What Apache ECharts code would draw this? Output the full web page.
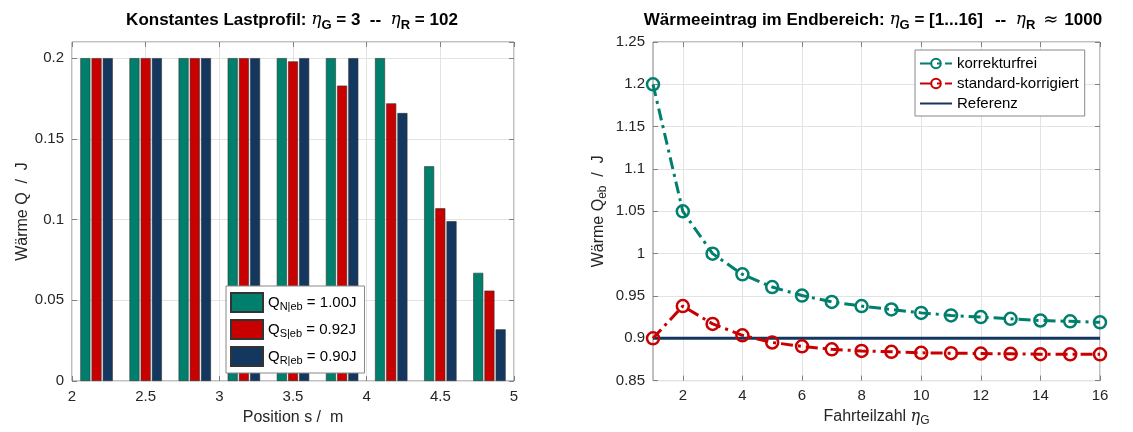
<!DOCTYPE html>
<html>
<head>
  <meta charset="utf-8">
  <script src="https://cdn.jsdelivr.net/npm/echarts@6/dist/echarts.min.js"></script>
  <style>
    body { margin: 0; background: #fff; }
  </style>
</head>
<body>
  <div id="chart" style="width: 1133px;height:432px;"></div>
  <script type="text/javascript">
    // Daten links: 9 Abschnitte zwischen 2 m und 5 m
    var positions = ['2.17', '2.50', '2.83', '3.17', '3.50', '3.83', '4.17', '4.50', '4.83'];
    var qN = [0.2, 0.2, 0.2, 0.2, 0.2, 0.2, 0.2, 0.133, 0.067];
    var qS = [0.2, 0.2, 0.2, 0.2, 0.198, 0.183, 0.172, 0.107, 0.056];
    var qR = [0.2, 0.2, 0.2, 0.2, 0.2, 0.2, 0.166, 0.099, 0.032];
    var legendLeft = { N: '1.00J', S: '0.92J', R: '0.90J' };

    // Daten rechts
    var etaG = [1, 2, 3, 4, 5, 6, 7, 8, 9, 10, 11, 12, 13, 14, 15, 16];
    var korrekturfrei = [1.2, 1.05, 1.0, 0.9755, 0.9605, 0.9505, 0.943, 0.938, 0.934, 0.930, 0.927, 0.925, 0.923, 0.921, 0.920, 0.9188];
    var standardKorr = [0.9, 0.938, 0.917, 0.9035, 0.895, 0.8905, 0.887, 0.885, 0.884, 0.8828, 0.8824, 0.882, 0.8816, 0.8812, 0.881, 0.881];
    var referenz = [0.9, 0.9, 0.9, 0.9, 0.9, 0.9, 0.9, 0.9, 0.9, 0.9, 0.9, 0.9, 0.9, 0.9, 0.9, 0.9];
    var evenTicks = [2, 4, 6, 8, 10, 12, 14, 16];

    var teal = '#007f6d';
    var red = '#c80000';
    var navy = '#14375f';
    var textColor = '#262626';
    var gridColor = '#e3e3e3';
    var boxColor = '#808080';
    var font = 'Liberation Sans';

    var rich = {
      b: { fontFamily: font, fontWeight: 'bold', fontSize: 17, color: '#000' },
      bw: { fontFamily: font, fontWeight: 'bold', fontSize: 17, color: '#000', padding: [0, 12, 0, 0] },
      eta: { fontFamily: 'DejaVu Serif', fontStyle: 'italic', fontWeight: 'normal', fontSize: 17, color: '#000' },
      ap: { fontFamily: 'DejaVu Sans', fontWeight: 'normal', fontSize: 18, color: '#000', padding: [0, 6, 0, 8] },
      sub: { fontFamily: font, fontWeight: 'bold', fontSize: 13, color: '#000', padding: [11, 0, 0, 0] }
    };
    var axRich = {
      n: { fontFamily: font, fontSize: 16, color: textColor },
      eta: { fontFamily: 'DejaVu Serif', fontStyle: 'italic', fontSize: 16, color: textColor },
      sub: { fontFamily: font, fontSize: 12, color: textColor, padding: [9, 0, 0, 0] }
    };
    var legRich = {
      n: { fontFamily: font, fontSize: 15, color: '#000' },
      sub: { fontFamily: font, fontSize: 11, color: '#000', padding: [9, 0, 0, 0] }
    };

    function tickLabel() {
      return { color: textColor, fontFamily: font, fontSize: 15 };
    }

    var chart = echarts.init(document.getElementById('chart'));
    var option = {
      animation: false,
      title: [{
        text: '{b|Konstantes Lastprofil: }{eta|η}{sub|G}{b| = 3  --  }{eta|η}{sub|R}{b| = 102}',
        left: 287, top: 3, textAlign: 'center',
        textStyle: { rich: rich }
      }, {
        text: '{b|Wärmeeintrag im Endbereich: }{eta|η}{sub|G}{bw| = [1...16]}{b|--  }{eta|η}{sub|R}{ap|≈}{b|1000}',
        left: 868, top: 3, textAlign: 'center',
        textStyle: { rich: rich }
      }],
      grid: [{
        left: 72, right: 619, top: 42, bottom: 51,
        show: true, borderColor: boxColor, borderWidth: 1
      }, {
        left: 653, right: 33, top: 42, bottom: 51,
        show: true, borderColor: boxColor, borderWidth: 1
      }],
      legend: [{
        data: ['N', 'S', 'R'],
        orient: 'vertical',
        left: 226, top: 286,
        icon: 'rect',
        itemWidth: 32, itemHeight: 19, itemGap: 6,
        padding: [6, 8, 6, 4],
        backgroundColor: '#fff',
        borderColor: '#888', borderWidth: 1, borderRadius: 0,
        formatter: function (name) {
          return '{n|Q}{sub|' + name + '|eb}{n| = ' + legendLeft[name] + '}';
        },
        textStyle: { rich: legRich, padding: [0, 0, 0, 0] }
      }, {
        data: ['korrekturfrei', 'standard-korrigiert', { name: 'Referenz', itemStyle: { opacity: 0 } }],
        orient: 'vertical',
        left: 915, top: 50,
        itemWidth: 32, itemHeight: 12, itemGap: 5,
        padding: [6, 6, 5, 4],
        backgroundColor: '#fff',
        borderColor: '#888', borderWidth: 1, borderRadius: 0,
        textStyle: { color: '#000', fontFamily: font, fontSize: 15 }
      }],
      xAxis: [{
        // Kategorien fuer die Balken
        type: 'category', gridIndex: 0, data: positions, position: 'top',
        show: false
      }, {
        type: 'value', gridIndex: 0, min: 2, max: 5, interval: 0.5, position: 'bottom',
        name: '{n|Position s /  m}', nameLocation: 'middle', nameGap: 29,
        nameTextStyle: { rich: axRich },
        axisLine: { show: false },
        axisTick: { show: true, inside: true, length: 5, lineStyle: { color: boxColor } },
        axisLabel: tickLabel(),
        splitLine: { show: true, lineStyle: { color: gridColor } }
      }, {
        type: 'value', gridIndex: 0, min: 2, max: 5, interval: 0.5, position: 'top',
        axisLine: { show: false }, axisLabel: { show: false }, splitLine: { show: false },
        axisTick: { show: true, inside: true, length: 5, lineStyle: { color: boxColor } }
      }, {
        type: 'value', gridIndex: 1, min: 1, max: 16, position: 'bottom',
        name: '{n|Fahrteilzahl }{eta|η}{sub|G}', nameLocation: 'middle', nameGap: 25,
        nameTextStyle: { rich: axRich },
        axisLine: { show: false },
        axisTick: { show: true, inside: true, length: 5, customValues: evenTicks, lineStyle: { color: boxColor } },
        axisLabel: Object.assign(tickLabel(), { customValues: evenTicks }),
        splitLine: { show: true, lineStyle: { color: gridColor } }
      }, {
        type: 'value', gridIndex: 1, min: 1, max: 16, position: 'top',
        axisLine: { show: false }, axisLabel: { show: false }, splitLine: { show: false },
        axisTick: { show: true, inside: true, length: 5, customValues: evenTicks, lineStyle: { color: boxColor } }
      }],
      yAxis: [{
        type: 'value', gridIndex: 0, min: 0, max: 0.21, interval: 0.05, position: 'left',
        name: '{n|Wärme Q  /  J}', nameLocation: 'middle', nameGap: 41,
        nameTextStyle: { rich: axRich },
        axisLine: { show: false },
        axisTick: { show: true, inside: true, length: 5, lineStyle: { color: boxColor } },
        axisLabel: Object.assign(tickLabel(), { showMaxLabel: false }),
        splitLine: { show: true, lineStyle: { color: gridColor } }
      }, {
        type: 'value', gridIndex: 0, min: 0, max: 0.21, interval: 0.05, position: 'right',
        axisLine: { show: false }, axisLabel: { show: false }, splitLine: { show: false },
        axisTick: { show: true, inside: true, length: 5, lineStyle: { color: boxColor } }
      }, {
        type: 'value', gridIndex: 1, min: 0.85, max: 1.25, interval: 0.05, position: 'left',
        name: '{n|Wärme Q}{sub|eb}{n|  /  J}', nameLocation: 'middle', nameGap: 44,
        nameTextStyle: { rich: axRich },
        axisLine: { show: false },
        axisTick: { show: true, inside: true, length: 5, lineStyle: { color: boxColor } },
        axisLabel: tickLabel(),
        splitLine: { show: true, lineStyle: { color: gridColor } }
      }, {
        type: 'value', gridIndex: 1, min: 0.85, max: 1.25, interval: 0.05, position: 'right',
        axisLine: { show: false }, axisLabel: { show: false }, splitLine: { show: false },
        axisTick: { show: true, inside: true, length: 5, lineStyle: { color: boxColor } }
      }],
      series: [{
        name: 'N', type: 'bar', xAxisIndex: 0, yAxisIndex: 0, data: qN,
        barWidth: 10, barGap: '12%',
        itemStyle: { color: teal, borderColor: '#333', borderWidth: 0.6 }
      }, {
        name: 'S', type: 'bar', xAxisIndex: 0, yAxisIndex: 0, data: qS,
        barWidth: 10, barGap: '12%',
        itemStyle: { color: red, borderColor: '#333', borderWidth: 0.6 }
      }, {
        name: 'R', type: 'bar', xAxisIndex: 0, yAxisIndex: 0, data: qR,
        barWidth: 10, barGap: '12%',
        itemStyle: { color: navy, borderColor: '#333', borderWidth: 0.6 }
      }, {
        name: 'Referenz', type: 'line', xAxisIndex: 3, yAxisIndex: 2,
        data: etaG.map(function (x, i) { return [x, referenz[i]]; }),
        symbol: 'none', z: 2,
        lineStyle: { color: navy, width: 3 },
        itemStyle: { color: navy }
      }, {
        name: 'korrekturfrei', type: 'line', xAxisIndex: 3, yAxisIndex: 2,
        data: etaG.map(function (x, i) { return [x, korrekturfrei[i]]; }),
        symbol: 'circle', symbolSize: 12, z: 3,
        lineStyle: { color: teal, width: 3, type: [12, 5, 3, 5] },
        itemStyle: { color: 'rgba(255,255,255,0)', borderColor: teal, borderWidth: 2.5 }
      }, {
        name: 'standard-korrigiert', type: 'line', xAxisIndex: 3, yAxisIndex: 2,
        data: etaG.map(function (x, i) { return [x, standardKorr[i]]; }),
        symbol: 'circle', symbolSize: 12, z: 3,
        lineStyle: { color: red, width: 3, type: [12, 5, 3, 5] },
        itemStyle: { color: 'rgba(255,255,255,0)', borderColor: red, borderWidth: 2.5 }
      }]
    };
    chart.setOption(option);
  </script>
</body>
</html>
